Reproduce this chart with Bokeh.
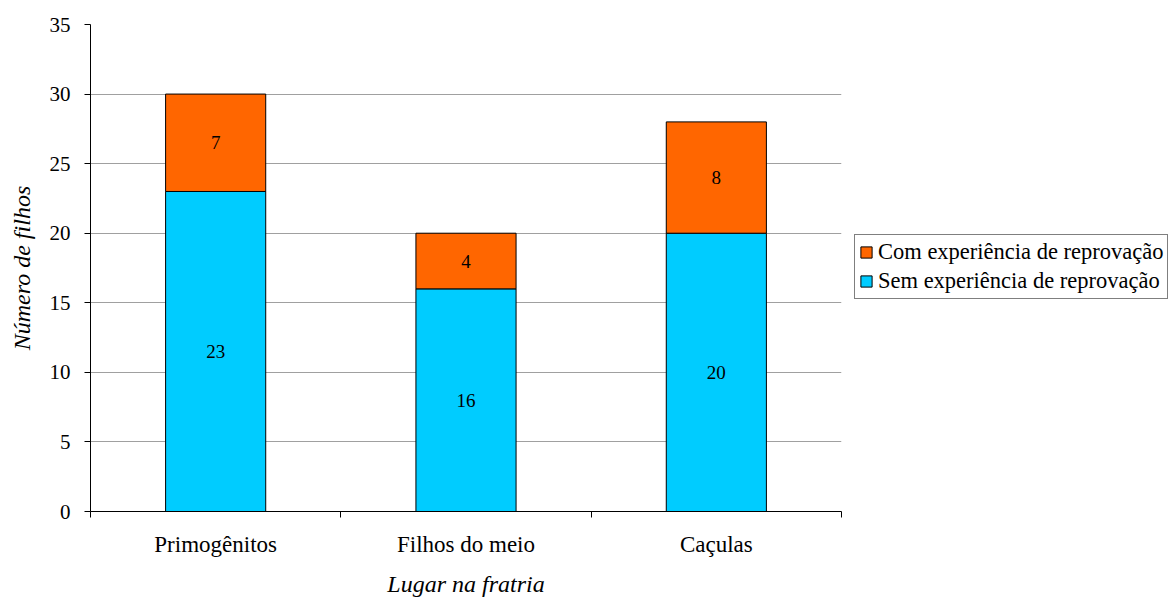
from bokeh.plotting import figure
from bokeh.models import (ColumnDataSource, FixedTicker, Legend, LegendItem, Range1d)
from bokeh.core.properties import value
from bokeh.embed import file_html
from bokeh.resources import INLINE

categories = ["Primogênitos", "Filhos do meio", "Caçulas"]
sem = [23, 16, 20]
com = [7, 4, 8]
y_ticks = [0, 5, 10, 15, 20, 25, 30, 35]
series_names = ["Sem experiência de reprovação", "Com experiência de reprovação"]
colors = ["#00CCFF", "#FF6600"]

FONT = "Liberation Serif"

xs = [i + 0.5 for i in range(len(categories))]
src = ColumnDataSource(dict(x=xs, sem=sem, com=com,
                            sem_mid=[s / 2 for s in sem],
                            com_mid=[s + c / 2 for s, c in zip(sem, com)],
                            sem_lbl=[str(v) for v in sem],
                            com_lbl=[str(v) for v in com]))

p = figure(frame_width=751, frame_height=487, output_backend="svg", toolbar_location=None,
           x_range=Range1d(0, len(categories)), y_range=Range1d(0, 35),
           min_border_left=90, min_border_top=24, min_border_bottom=0,
           min_border_right=0)
p.outline_line_color = None

r = p.vbar_stack(["sem", "com"], x="x", width=0.4, source=src, color=colors,
                 line_color="black", line_width=1)

p.text(x="x", y="sem_mid", text="sem_lbl", source=src, text_align="center",
       text_baseline="middle", text_font=value(FONT), text_font_size="19px", text_color="black")
p.text(x="x", y="com_mid", text="com_lbl", source=src, text_align="center",
       text_baseline="middle", text_font=value(FONT), text_font_size="19px", text_color="black")

# axes
p.xaxis.ticker = FixedTicker(ticks=xs, minor_ticks=list(range(len(categories) + 1)))
p.xaxis.major_label_overrides = {x: c for x, c in zip(xs, categories)}
p.xaxis.major_tick_out = 0
p.xaxis.major_tick_in = 0
p.xaxis.minor_tick_out = 6
p.xaxis.minor_tick_in = 0
p.xaxis.minor_tick_line_color = "black"
p.xaxis.axis_label = "Lugar na fratria"
p.yaxis.axis_label = "Número de filhos"
p.yaxis.ticker = FixedTicker(ticks=y_ticks)
p.yaxis.minor_tick_line_color = None
p.yaxis.major_tick_out = 6
p.yaxis.major_tick_in = 0
for ax in (p.xaxis, p.yaxis):
    ax.axis_line_color = "black"
    ax.major_tick_line_color = "black"
    ax.major_label_text_font = FONT
    ax.major_label_text_color = "black"
    ax.axis_label_text_font = FONT
    ax.axis_label_text_font_size = "24px"
    ax.axis_label_text_font_style = "italic"
    ax.axis_label_text_color = "black"
p.xaxis.major_label_text_font_size = "23px"
p.yaxis.major_label_text_font_size = "21px"
p.xaxis.major_label_standoff = 14
p.xaxis.axis_label_standoff = 11
p.yaxis.major_label_standoff = 14
p.yaxis.axis_label_standoff = 12

p.xgrid.grid_line_color = None
p.ygrid.grid_line_color = "#A0A0A0"
p.ygrid.ticker = FixedTicker(ticks=y_ticks)

legend = Legend(items=[LegendItem(label=series_names[1], renderers=[r[1]]),
                       LegendItem(label=series_names[0], renderers=[r[0]])],
                location=(13, 212))
legend.label_text_font = FONT
legend.label_text_font_size = "22.5px"
legend.label_text_color = "black"
legend.glyph_width = 14
legend.glyph_height = 14
legend.label_standoff = 5
legend.spacing = 3
legend.padding = 4
legend.margin = 0
legend.border_line_color = "black"
legend.border_line_width = 1
legend.label_height = 26
p.add_layout(legend, "right")

open("out.html", "w").write(file_html(p, INLINE))
